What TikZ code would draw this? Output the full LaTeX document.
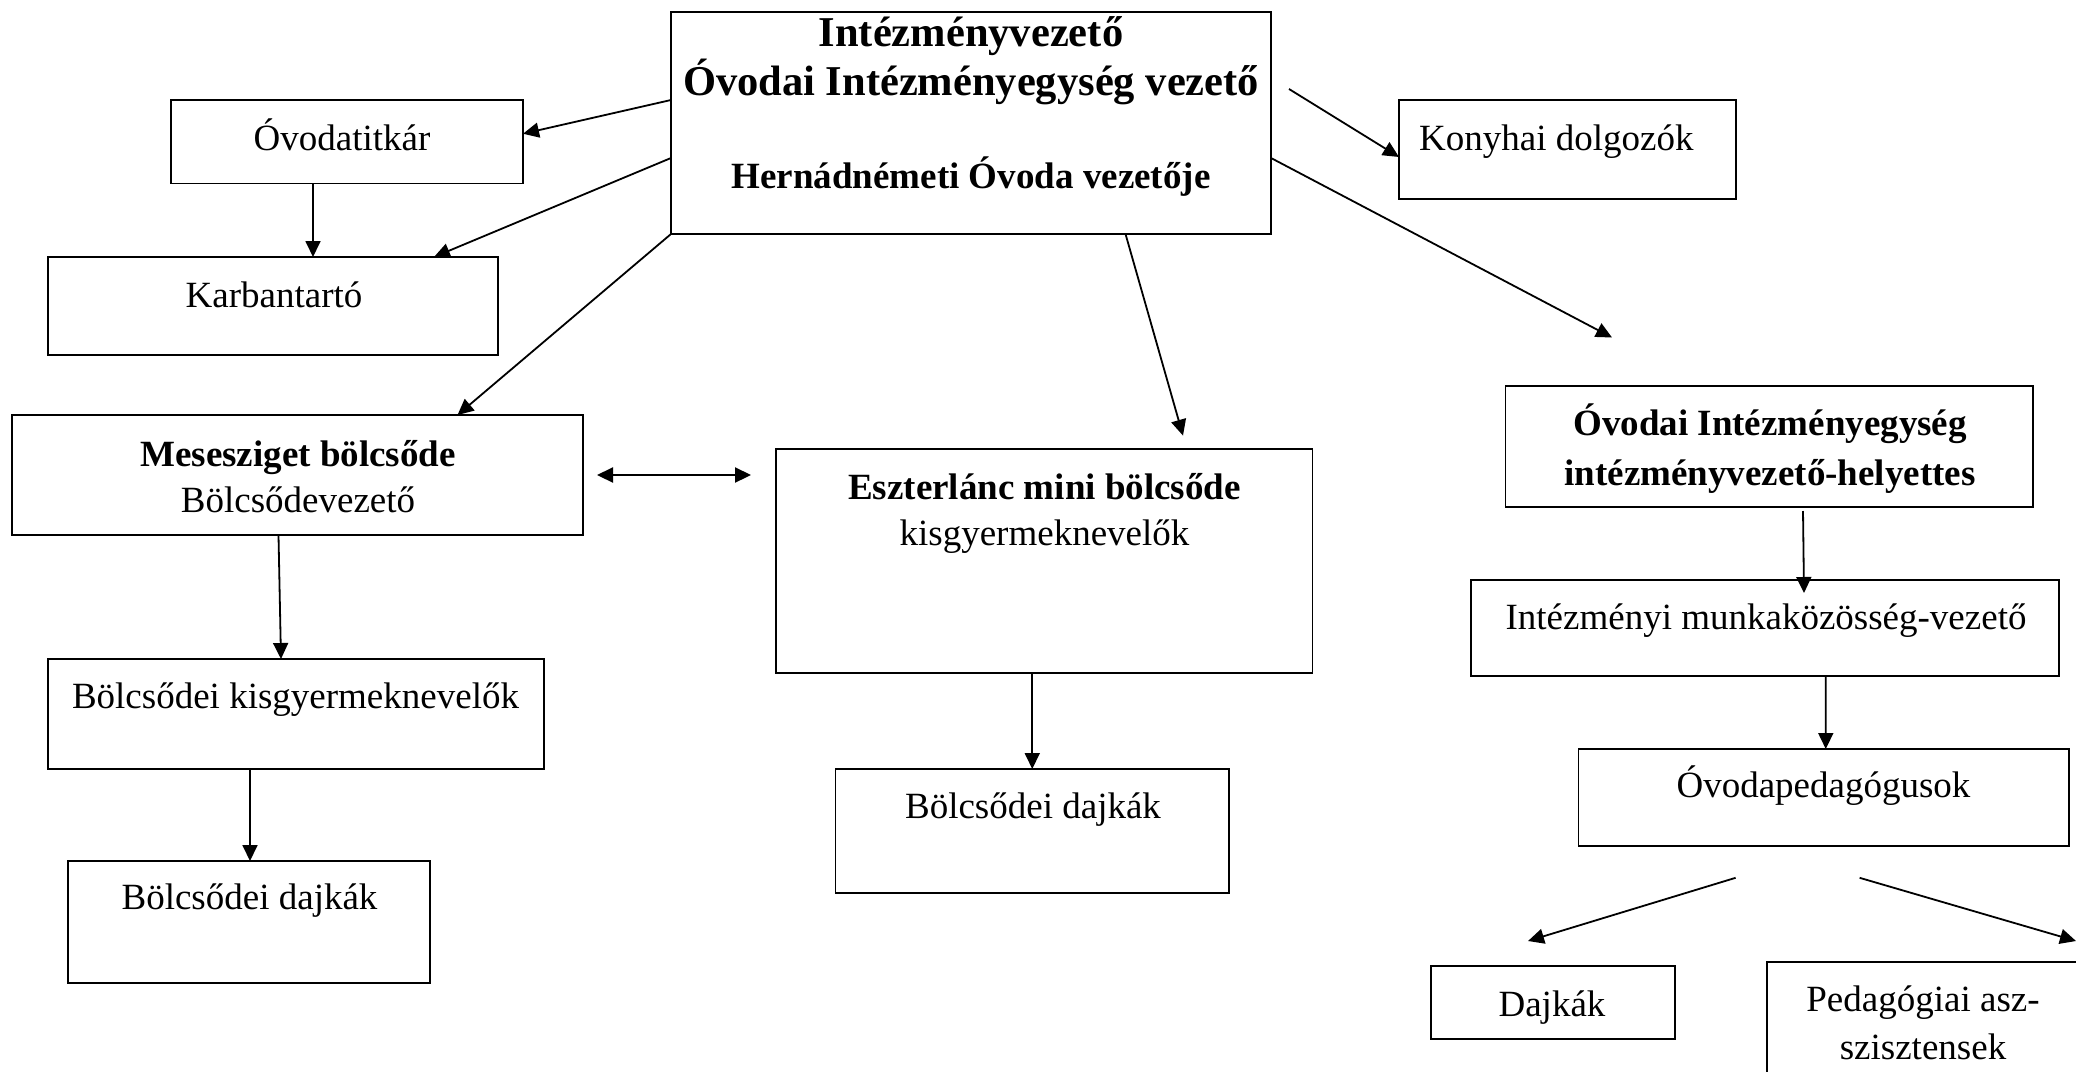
\documentclass[tikz,border=0pt]{standalone}
\usepackage{fontspec}
\setmainfont{Liberation Serif}
\usetikzlibrary{arrows.meta,calc}
\begin{document}
\begin{tikzpicture}[x=1pt,y=-1pt,
  box/.style={draw,line width=1.9pt,inner sep=0pt,outer sep=0pt},
  txt/.style={anchor=base,inner sep=0pt,font=\fontsize{37}{45}\selectfont},
  btxt/.style={anchor=base,inner sep=0pt,font=\fontsize{37}{45}\selectfont\bfseries},
  ttl/.style={anchor=base,inner sep=0pt,font=\fontsize{42.5}{50}\selectfont\bfseries},
  arr/.style={line width=1.8pt,-{Triangle[length=16pt,width=15pt]}},
  darr/.style={line width=2.2pt,{Triangle[length=16pt,width=15pt]}-{Triangle[length=16pt,width=15pt]}},
]
\useasboundingbox (0,0) rectangle (2076,1071);
\clip (0,0) rectangle (2076,1071);
\fill[white] (0,0) rectangle (2076,1071);

% boxes
\node[box,minimum width=600pt,minimum height=222pt] (top) at (971,123) {};
\node[box,minimum width=352pt,minimum height=83.5pt] (tit) at (347,141.75) {};
\node[box,minimum width=450pt,minimum height=98pt] (karb) at (273,306) {};
\node[box,minimum width=571pt,minimum height=120pt] (meses) at (297.5,475) {};
\node[box,minimum width=536.5pt,minimum height=224pt] (eszter) at (1044.25,561) {};
\node[box,minimum width=337pt,minimum height=99pt] (kony) at (1567.5,149.5) {};
\node[box,minimum width=527.5pt,minimum height=121pt] (hely) at (1769.25,446.5) {};
\node[box,minimum width=496pt,minimum height=110pt] (bkisgy) at (296,714) {};
\node[box,minimum width=362.4pt,minimum height=122pt] (ldajk) at (248.8,922) {};
\node[box,minimum width=393.5pt,minimum height=124pt] (mdajk) at (1032.25,831) {};
\node[box,minimum width=587.6pt,minimum height=96pt] (munk) at (1764.8,628) {};
\node[box,minimum width=490.5pt,minimum height=97pt] (oped) at (1823.75,797.5) {};
\node[box,minimum width=244pt,minimum height=72.6pt] (dajkak) at (1552.6,1002.3) {};
\node[box,minimum width=318pt,minimum height=128pt] (pedasz) at (1926,1026) {};

% texts
\node[ttl] (t1) at (971,46.5) {Intézményvezető};
\node[ttl] (t2) at (971,95.7) {Óvodai Intézményegység vezető};
\node[btxt] (t3) at (971,188.7) {Hernádnémeti Óvoda vezetője};
\node[txt] (t4) at (342,150) {Óvodatitkár};
\node[txt] (t5) at (274,307.5) {Karbantartó};
\node[btxt] (t6) at (298,466.6) {Mesesziget bölcsőde};
\node[txt] (t7) at (298,512) {Bölcsődevezető};
\node[btxt] (t8) at (1044.5,499.5) {Eszterlánc mini bölcsőde};
\node[txt] (t9) at (1044.5,545) {kisgyermeknevelők};
\node[txt,anchor=base west] (t10) at (1419,150) {Konyhai dolgozók};
\node[btxt] (t11) at (1770,435.6) {Óvodai Intézményegység};
\node[btxt] (t12) at (1770,485.5) {intézményvezető-helyettes};
\node[txt] (t13) at (295.5,708.4) {Bölcsődei kisgyermeknevelők};
\node[txt] (t14) at (249.5,909.6) {Bölcsődei dajkák};
\node[txt] (t15) at (1033,818) {Bölcsődei dajkák};
\node[txt] (t16) at (1766,629.4) {Intézményi munkaközösség-vezető};
\node[txt] (t17) at (1823.5,797.4) {Óvodapedagógusok};
\node[txt] (t18) at (1552,1016) {Dajkák};
\node[txt] (t19) at (1923,1011) {Pedagógiai asz-};
\node[txt] (t20) at (1923,1059) {szisztensek};

% free ends
\coordinate (k0) at (1289,89);
\coordinate (h0) at (1612,337.5);
\coordinate (e0) at (1183,435.6);
\coordinate (m0) at (1803,511);
\coordinate (m1) at (1804,593);
\coordinate (p0) at (1735.6,877.8);
\coordinate (p1) at (1528,941);
\coordinate (p2) at (1859.6,877.8);
\coordinate (p3) at (2076,941);

% connectors
\draw[arr] (top.west |- tit.north) -- ($(tit.east)+(0,-8)$);
\draw[arr] ($(top.west)+(0,35)$) -- ($(karb.north east)+(-64,0)$);
\draw[arr] (top.south west) -- ($(meses.north east)+(-125.5,0)$);
\draw[arr] ($(tit.south)+(-34,0)$) -- ($(karb.north)+(40,0)$);
\draw[arr] (k0) -- ($(kony.west)+(0,7.5)$);
\draw[arr] ($(top.east)+(0,35)$) -- (h0);
\draw[arr] ($(top.south)+(154.5,0)$) -- (e0);
\draw[darr] ($(meses.east)+(14,0)$) -- ($(eszter.west |- meses.east)+(-25,0)$);
\draw[arr] ($(meses.south)+(-19,0)$) -- ($(bkisgy.north)+(-15,0)$);
\draw[arr] ($(bkisgy.south)+(-46,0)$) -- ($(ldajk.north)+(1.2,0)$);
\draw[arr] (mdajk.north |- eszter.south) -- (mdajk.north);
\draw[arr] (m0) -- (m1);
\draw[arr] ($(munk.south)+(61,0)$) -- ($(oped.north)+(2,0)$);
\draw[arr] (p0) -- (p1);
\draw[arr] (p2) -- (p3);
\end{tikzpicture}
\end{document}
